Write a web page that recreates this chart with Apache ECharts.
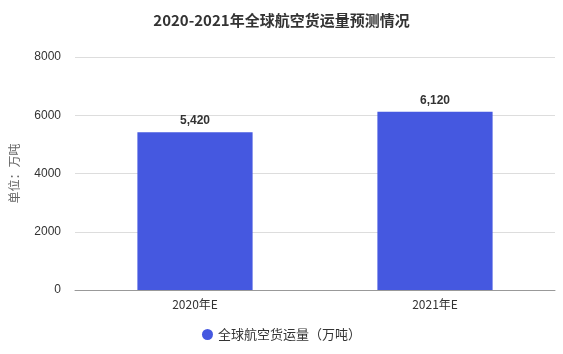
<!DOCTYPE html>
<html><head><meta charset="utf-8">
<script src="https://cdn.jsdelivr.net/npm/echarts@6/dist/echarts.min.js"></script>
<style>html,body{margin:0;padding:0;background:#fff}#c{width:563px;height:354px}</style>
</head><body><div id="c"></div>
<script>
var categories = ['2020年E', '2021年E'];
var values = [5420, 6120];
var seriesName = '全球航空货运量（万吨）';
var yTicks = [0, 2000, 4000, 6000, 8000];

var chart = echarts.init(document.getElementById('c'));
chart.setOption({
  animation: false,
  title: {
    text: '2020-2021年全球航空货运量预测情况',
    left: 'center', top: 8,
    textStyle: {fontSize: 15, fontWeight: 'bold', color: '#333', fontFamily: 'Microsoft YaHei, Noto Sans CJK SC, sans-serif'}
  },
  legend: {
    bottom: 8, left: 'center',
    icon: 'circle', itemWidth: 11, itemHeight: 11,
    textStyle: {fontSize: 13, color: '#333', fontFamily: 'Noto Sans CJK SC, sans-serif'},
    data: [seriesName]
  },
  grid: {left: 75, right: 8, top: 57, bottom: 64},
  xAxis: {
    type: 'category', data: categories,
    axisLine: {lineStyle: {color: '#999'}},
    axisTick: {alignWithLabel: true, lineStyle: {color: '#999'}},
    axisLabel: {color: '#333', fontSize: 12, margin: 8, fontFamily: 'Noto Sans CJK SC, sans-serif'}
  },
  yAxis: {
    type: 'value', min: yTicks[0], max: yTicks[yTicks.length - 1], interval: 2000,
    name: '单位：万吨', nameLocation: 'middle', nameGap: 55, nameRotate: 90,
    nameTextStyle: {color: '#666', fontSize: 12, fontFamily: 'Noto Sans CJK SC, sans-serif'},
    axisLine: {show: false}, axisTick: {show: false},
    axisLabel: {color: '#333', fontSize: 12, margin: 14, formatter: function(v){ return String(v); }},
    splitLine: {lineStyle: {color: '#ddd'}}
  },
  series: [{
    name: seriesName, type: 'bar', data: values, barWidth: '48%',
    itemStyle: {color: '#4558E0'},
    label: {show: true, position: 'top', color: '#333', fontWeight: 'bold', fontSize: 12,
      formatter: function(p){ return p.value.toLocaleString('en-US'); }}
  }]
});
</script></body></html>
